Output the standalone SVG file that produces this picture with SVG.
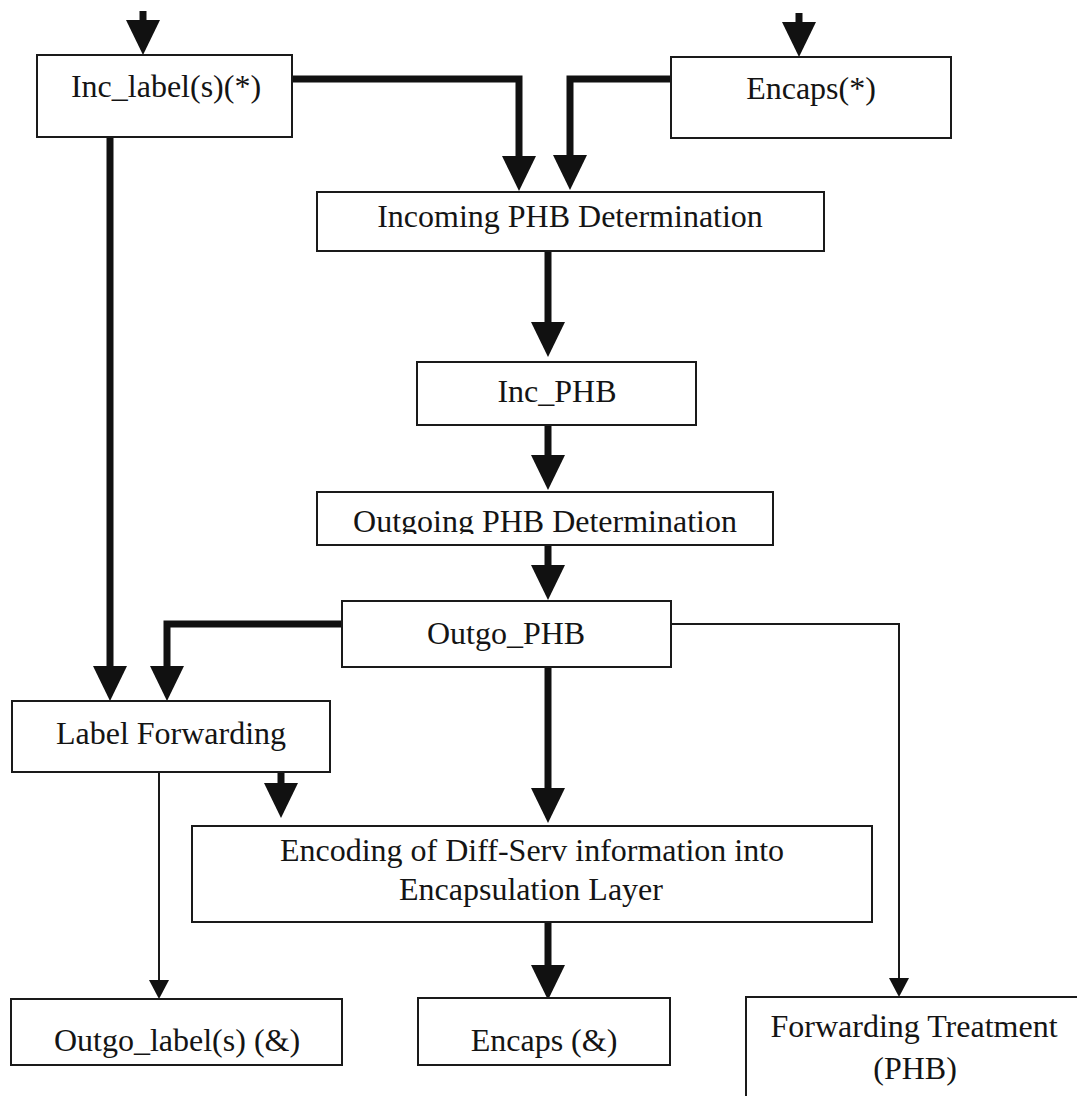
<svg xmlns="http://www.w3.org/2000/svg" width="1077" height="1096" viewBox="0 0 1077 1096">
  <style>
    .box { fill: #ffffff; stroke: #1a1a1a; stroke-width: 2; }
    .lbl { font-family: "Liberation Serif", "Times New Roman", serif; font-size: 32px; fill: #141414; text-anchor: middle; }
    .thick { fill: none; stroke: #111111; stroke-width: 7; marker-end: url(#headBig); }
    .thin { fill: none; stroke: #1a1a1a; stroke-width: 2; marker-end: url(#headSmall); }
  </style>
  <defs>
    <marker id="headBig" markerUnits="userSpaceOnUse" viewBox="0 0 35 34" markerWidth="35" markerHeight="34" refX="0" refY="17" orient="auto">
      <path d="M0,0 L35,17 L0,34 Z" fill="#111111"/>
    </marker>
    <marker id="headSmall" markerUnits="userSpaceOnUse" viewBox="0 0 19 20" markerWidth="19" markerHeight="20" refX="0" refY="10" orient="auto">
      <path d="M0,0 L19,10 L0,20 Z" fill="#111111"/>
    </marker>
    <clipPath id="clipOutgoing">
      <rect x="317" y="492" width="456" height="42"/>
    </clipPath>
  </defs>

  <rect width="1077" height="1096" fill="#ffffff"/>

  <!-- connectors -->
  <g id="connectors">
    <path class="thick" d="M143,11 V20"/>
    <path class="thick" d="M799,13 V22"/>
    <path class="thick" d="M292,79 H519 V156"/>
    <path class="thick" d="M671,79 H570 V155"/>
    <path class="thick" d="M548,251 V322"/>
    <path class="thick" d="M548,425 V455"/>
    <path class="thick" d="M548,545 V565"/>
    <path class="thick" d="M110,137 V666"/>
    <path class="thick" d="M342,624 H167 V666"/>
    <path class="thick" d="M548,667 V788"/>
    <path class="thick" d="M281,772 V783"/>
    <path class="thick" d="M548,922 V965"/>
    <path class="thin" d="M159,772 V980"/>
    <path class="thin" d="M671,624 H899 V978"/>
  </g>

  <!-- nodes -->
  <g id="inc-label">
    <rect class="box" x="37" y="55" width="255" height="82"/>
    <text class="lbl" x="166" y="97">Inc_label(s)(*)</text>
  </g>
  <g id="encaps-in">
    <rect class="box" x="671" y="57" width="280" height="81"/>
    <text class="lbl" x="811" y="99">Encaps(*)</text>
  </g>
  <g id="incoming-phb-determination">
    <rect class="box" x="317" y="192" width="507" height="59"/>
    <text class="lbl" x="570" y="227">Incoming PHB Determination</text>
  </g>
  <g id="inc-phb">
    <rect class="box" x="417" y="362" width="279" height="63"/>
    <text class="lbl" x="557" y="402">Inc_PHB</text>
  </g>
  <g id="outgoing-phb-determination">
    <rect class="box" x="317" y="492" width="456" height="53"/>
    <text class="lbl" x="545" y="532" clip-path="url(#clipOutgoing)">Outgoing PHB Determination</text>
  </g>
  <g id="outgo-phb">
    <rect class="box" x="342" y="601" width="329" height="66"/>
    <text class="lbl" x="506" y="644">Outgo_PHB</text>
  </g>
  <g id="label-forwarding">
    <rect class="box" x="12" y="701" width="318" height="71"/>
    <text class="lbl" x="171" y="744">Label Forwarding</text>
  </g>
  <g id="encoding">
    <rect class="box" x="192" y="826" width="680" height="96"/>
    <text class="lbl" x="532" y="861">Encoding of Diff-Serv information into</text>
    <text class="lbl" x="531" y="900">Encapsulation Layer</text>
  </g>
  <g id="outgo-labels">
    <rect class="box" x="11" y="999" width="331" height="66"/>
    <text class="lbl" x="177" y="1051">Outgo_label(s) (&amp;)</text>
  </g>
  <g id="encaps-out">
    <rect class="box" x="418" y="998" width="252" height="67"/>
    <text class="lbl" x="544" y="1051">Encaps (&amp;)</text>
  </g>
  <g id="forwarding-treatment">
    <rect class="box" x="746" y="997" width="340" height="120"/>
    <text class="lbl" x="914" y="1037">Forwarding Treatment</text>
    <text class="lbl" x="915" y="1079">(PHB)</text>
  </g>
</svg>
